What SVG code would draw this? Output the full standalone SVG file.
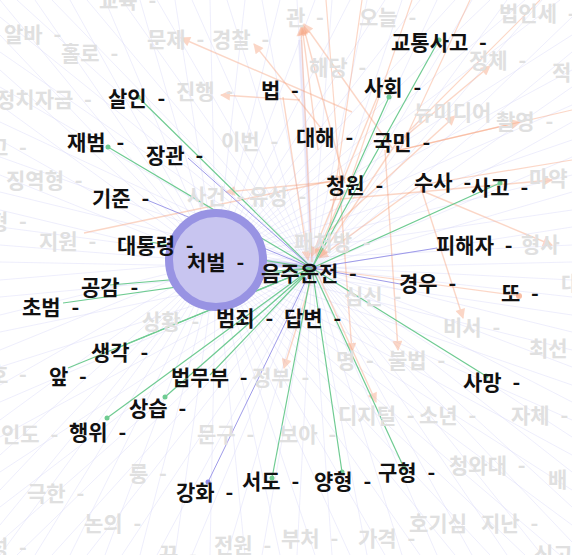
<svg xmlns="http://www.w3.org/2000/svg" width="572" height="555" viewBox="0 0 572 555">
<style>
text{font-family:"Noto Sans CJK KR","Noto Sans",sans-serif;font-size:21px;font-weight:bold;word-spacing:6px}
.lbl{fill:#111}
.fnt{fill:#e0e0e0}
.fan{fill:none;stroke:#d6d6f7;stroke-width:0.5;opacity:0.85}
.org{fill:none;stroke:#f7a07a;stroke-width:1.4;opacity:0.42;marker-end:url(#arr)}
.orl{fill:none;stroke:#f7a07a;stroke-width:1.2;opacity:0.42}
.grn{stroke:#6fcb92;stroke-width:1.2;fill:none}
.pur{stroke:#8f8be6;stroke-width:1;fill:none;opacity:0.85}
.gd{fill:#6fcb92}
</style>
<defs>
<marker id="arr" viewBox="0 0 10 10" refX="9" refY="5" markerWidth="12" markerHeight="10" markerUnits="userSpaceOnUse" orient="auto">
<path d="M0 0L10 5L0 10z" fill="#f7a07a"/>
</marker>
</defs>
<rect width="572" height="555" fill="#fff"/>
<g id="connectors">
<path class="fan" d="M216 262L0 0M216 262L35 0M216 262L70 0M216 262L105 0M216 262L140 0M216 262L175 0M216 262L210 0M216 262L245 0M216 262L280 0M216 262L315 0M216 262L350 0M216 262L385 0M216 262L420 0M216 262L455 0M216 262L490 0M216 262L525 0M216 262L560 0M216 262L0 35M216 262L0 70M216 262L0 105M216 262L0 140M216 262L0 175M216 262L0 210M216 262L0 245M216 262L0 280M216 262L0 315M216 262L0 350M216 262L0 385M216 262L0 420M216 262L0 455M216 262L0 490M216 262L0 525M216 262L0 555M216 262L35 555M216 262L70 555M216 262L105 555M216 262L140 555M216 262L175 555M216 262L210 555M216 262L245 555M216 262L280 555M216 262L315 555M216 262L350 555M216 262L385 555M216 262L420 555M216 262L455 555M216 262L490 555M216 262L525 555M216 262L560 555M216 262L572 35M216 262L572 70M216 262L572 105M216 262L572 140M216 262L572 175M216 262L572 210M216 262L572 245M216 262L572 280M216 262L572 315M216 262L572 350M216 262L572 385M216 262L572 420M216 262L572 455M216 262L572 490M216 262L572 525"/>
<path class="fan" d="M312 268L17 0M312 268L52 0M312 268L87 0M312 268L122 0M312 268L157 0M312 268L192 0M312 268L227 0M312 268L262 0M312 268L297 0M312 268L332 0M312 268L367 0M312 268L402 0M312 268L437 0M312 268L472 0M312 268L507 0M312 268L542 0M312 268L0 17M312 268L0 52M312 268L0 87M312 268L0 122M312 268L0 157M312 268L0 192M312 268L0 227M312 268L0 262M312 268L0 297M312 268L0 332M312 268L0 367M312 268L0 402M312 268L0 437M312 268L0 472M312 268L0 507M312 268L0 542M312 268L17 555M312 268L52 555M312 268L87 555M312 268L122 555M312 268L157 555M312 268L192 555M312 268L227 555M312 268L262 555M312 268L297 555M312 268L332 555M312 268L367 555M312 268L402 555M312 268L437 555M312 268L472 555M312 268L507 555M312 268L542 555M312 268L572 17M312 268L572 52M312 268L572 87M312 268L572 122M312 268L572 157M312 268L572 192M312 268L572 227M312 268L572 262M312 268L572 297M312 268L572 332M312 268L572 367M312 268L572 402M312 268L572 437M312 268L572 472M312 268L572 507M312 268L572 542"/>
<path d="M262 262L312 268" stroke="#b9b6f0" stroke-width="6" opacity="0.55"/>
<path d="M300 40L312 262" stroke="#dedcf8" stroke-width="4" opacity="0.45"/>
<path class="org" d="M392 148L304 24"/>
<path class="org" d="M345 183L303 25"/>
<path class="org" d="M318 150L302 26"/>
<path class="org" d="M312 262L301 27"/>
<path class="org" d="M283 97L308 260"/>
<path class="org" d="M352 112L181 38"/>
<path class="org" d="M332 142L254 44"/>
<path class="org" d="M300 100L221 95"/>
<path class="org" d="M395 145L490 66"/>
<path class="org" d="M330 230L455 116"/>
<path class="org" d="M400 150L520 122"/>
<path class="org" d="M330 200L552 180"/>
<path class="org" d="M420 190L552 245"/>
<path class="org" d="M420 185L463 318"/>
<path class="org" d="M385 150L398 350"/>
<path class="org" d="M340 190L352 352"/>
<path class="org" d="M84 233L345 178"/>
<path class="org" d="M330 182L226 192"/>
<path class="org" d="M315 268L284 368"/>
<path class="org" d="M316 270L376 402"/>
<path class="org" d="M395 145L320 257"/>
<path class="org" d="M345 190L316 256"/>
<path class="org" d="M420 185L319 258"/>
<path class="org" d="M378 95L312 256"/>
<path class="orl" d="M326 0L340 180M412 0L350 182M540 0L395 145M362 0L330 225M470 0L400 150M572 110L400 150M572 160L420 185"/>
<path class="orl" d="M312 268L520 296"/>
<circle cx="519" cy="296" r="3" fill="#f7a07a" opacity="0.7"/>
<g class="grn">
<path d="M439 40L312 268"/>
<path d="M389 97L312 268"/>
<path d="M500 183L312 268"/>
<path d="M138 97L312 268"/>
<path d="M108 147L312 268"/>
<path d="M150 242L312 268"/>
<path d="M110 285L312 268"/>
<path d="M63 303L312 268"/>
<path d="M120 347L312 268"/>
<path d="M68 368L312 268"/>
<path d="M210 375L312 268"/>
<path d="M165 397L312 268"/>
<path d="M107 418L312 268"/>
<path d="M272 478L312 268"/>
<path d="M342 472L312 268"/>
<path d="M404 468L312 268"/>
<path d="M486 376L312 268"/>
</g>
<g class="pur">
<path d="M188 158L312 268"/>
<path d="M147 200L312 268"/>
<path d="M437 248L312 268"/>
<path d="M400 284L312 268"/>
<path d="M208 482L312 268"/>
</g>
<g class="gd">
<circle cx="439" cy="40" r="2.5"/><circle cx="389" cy="97" r="2.5"/><circle cx="500" cy="183" r="2.5"/><circle cx="138" cy="97" r="2.5"/><circle cx="108" cy="147" r="2.5"/><circle cx="342" cy="472" r="2.5"/><circle cx="404" cy="468" r="2.5"/><circle cx="486" cy="376" r="2.5"/><circle cx="272" cy="478" r="2.5"/><circle cx="107" cy="418" r="2.5"/><circle cx="165" cy="397" r="2.5"/>
</g>
<circle cx="208" cy="482" r="2.5" fill="#8f8be6"/>
</g>
<g id="faint-nodes" class="fnt">
<text x="99" y="8">교육 -</text>
<text x="4" y="42">알바 -</text>
<text x="147" y="47">문제 -</text>
<text x="212" y="47">경찰 -</text>
<text x="61" y="61">홀로 -</text>
<text x="286" y="25">관 -</text>
<text x="359" y="25">오늘 -</text>
<text x="499" y="21">법인세 -</text>
<text x="309" y="75">해당 -</text>
<text x="469" y="68">정체 -</text>
<text x="552" y="80">적</text>
<text x="-4" y="107">정치자금 -</text>
<text x="176" y="99">진행 -</text>
<text x="414" y="120">뉴미디어</text>
<text x="496" y="129">촬영 -</text>
<text x="221" y="149">이번 -</text>
<text x="-11" y="155">고 -</text>
<text x="6" y="188">징역형 -</text>
<text x="529" y="186">마약</text>
<text x="-11" y="229">형 -</text>
<text x="39" y="249">지원 -</text>
<text x="187" y="204">사건 -</text>
<text x="249" y="204">유성 -</text>
<text x="294" y="250">패처방 -</text>
<text x="521" y="252">형사</text>
<text x="561" y="291">대</text>
<text x="344" y="304">심신 -</text>
<text x="443" y="335">비서 -</text>
<text x="529" y="356">최선</text>
<text x="336" y="368">명 -</text>
<text x="388" y="368">불법 -</text>
<text x="142" y="329">상황 -</text>
<text x="-11" y="382">호 -</text>
<text x="252" y="385">정부 -</text>
<text x="338" y="423">디지털 -</text>
<text x="419" y="423">소년 -</text>
<text x="511" y="423">자체 -</text>
<text x="1" y="442">인도 -</text>
<text x="197" y="442">문구 -</text>
<text x="279" y="442">보아 -</text>
<text x="129" y="481">룽 -</text>
<text x="449" y="473">청와대 -</text>
<text x="548" y="487">배</text>
<text x="27" y="501">극한 -</text>
<text x="84" y="531">논의 -</text>
<text x="409" y="531">호기심</text>
<text x="481" y="531">지난 -</text>
<text x="-11" y="555">성 -</text>
<text x="159" y="562">꾸 -</text>
<text x="214" y="553">전원 -</text>
<text x="281" y="546">부처 -</text>
<text x="358" y="546">가격 -</text>
<text x="534" y="562">신고</text>
</g>
<g id="node-처벌">
<circle cx="216" cy="260" r="47" fill="#c8c5f0" stroke="#9893e3" stroke-width="8"/>
<text class="lbl" x="187" y="270">처벌 -</text>
</g>
<g id="node-교통사고"><text class="lbl" x="391" y="50">교통사고 -</text></g>
<g id="node-법"><text class="lbl" x="261" y="98">법 -</text></g>
<g id="node-살인"><text class="lbl" x="108" y="106">살인 -</text></g>
<g id="node-사회"><text class="lbl" x="364" y="95">사회 -</text></g>
<g id="node-재범"><text class="lbl" x="67" y="150">재범 -</text></g>
<g id="node-장관"><text class="lbl" x="146" y="163">장관 -</text></g>
<g id="node-대해"><text class="lbl" x="296" y="145">대해 -</text></g>
<g id="node-국민"><text class="lbl" x="373" y="150">국민 -</text></g>
<g id="node-청원"><text class="lbl" x="326" y="193">청원 -</text></g>
<g id="node-수사"><text class="lbl" x="414" y="190">수사 -</text></g>
<g id="node-사고"><text class="lbl" x="471" y="195">사고 -</text></g>
<g id="node-기준"><text class="lbl" x="92" y="206">기준 -</text></g>
<g id="node-대통령"><text class="lbl" x="117" y="253">대통령 -</text></g>
<g id="node-음주운전"><text class="lbl" x="261" y="281">음주운전 -</text></g>
<g id="node-피해자"><text class="lbl" x="436" y="253">피해자 -</text></g>
<g id="node-경우"><text class="lbl" x="399" y="291">경우 -</text></g>
<g id="node-또"><text class="lbl" x="501" y="301">또 -</text></g>
<g id="node-공감"><text class="lbl" x="81" y="295">공감 -</text></g>
<g id="node-초범"><text class="lbl" x="22" y="315">초범 -</text></g>
<g id="node-범죄"><text class="lbl" x="216" y="326">범죄 -</text></g>
<g id="node-답변"><text class="lbl" x="284" y="326">답변 -</text></g>
<g id="node-생각"><text class="lbl" x="91" y="360">생각 -</text></g>
<g id="node-앞"><text class="lbl" x="49" y="384">앞 -</text></g>
<g id="node-법무부"><text class="lbl" x="171" y="385">법무부 -</text></g>
<g id="node-사망"><text class="lbl" x="463" y="390">사망 -</text></g>
<g id="node-상습"><text class="lbl" x="129" y="416">상습 -</text></g>
<g id="node-행위"><text class="lbl" x="69" y="440">행위 -</text></g>
<g id="node-강화"><text class="lbl" x="176" y="500">강화 -</text></g>
<g id="node-서도"><text class="lbl" x="242" y="489">서도 -</text></g>
<g id="node-양형"><text class="lbl" x="314" y="489">양형 -</text></g>
<g id="node-구형"><text class="lbl" x="378" y="480">구형 -</text></g>
</svg>
